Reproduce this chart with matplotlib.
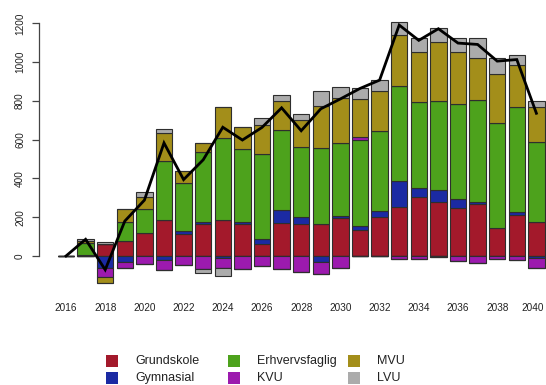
import numpy as np
import matplotlib
matplotlib.use("Agg")
import matplotlib.pyplot as plt
import matplotlib.transforms as mtransforms
from matplotlib.patches import Rectangle

plt.rcParams['font.family'] = ['Liberation Sans', 'DejaVu Sans']

years = list(range(2016, 2041))

grundskole = [0, 3, 60, 77, 120, 186, 113, 165, 186, 165, 60, 168, 165, 165, 194,
              134, 199, 254, 306, 280, 249, 266, 146, 211, 174]
gymnasial = [0, 0, -64, -32, 0, -20, 17, 8, -10, 12, 26, 69, 34, -29, 12,
             21, 33, 132, 43, 60, 43, 14, 0, 17, -9]
erhvervsfaglig = [0, 63, 0, 100, 121, 306, 248, 361, 425, 375, 438, 413, 364, 390, 375,
                  443, 414, 490, 447, 461, 490, 524, 538, 538, 416]
kvu = [0, 0, -43, -30, -43, -52, -46, -69, -52, -69, -50, -67, -84, -64, -60,
       17, 0, -15, -14, -5, -24, -34, -17, -21, -55]
mvu = [0, 13, -34, 65, 65, 140, 62, 48, 155, 115, 151, 150, 138, 218, 232,
       194, 206, 263, 258, 304, 268, 218, 254, 218, 177]
lvu = [0, 7, 10, 0, 25, 23, 0, -17, -40, 0, 38, 31, 29, 79, 57,
       55, 55, 67, 72, 72, 72, 103, 84, 50, 33]

labels = ['Grundskole', 'Gymnasial', 'Erhvervsfaglig', 'KVU', 'MVU', 'LVU']
colors = ['#A3192B', '#1B2AA3', '#4DA21C', '#9C1AAE', '#A38E1A', '#ABABAB']

series = [grundskole, gymnasial, erhvervsfaglig, kvu, mvu, lvu]

W, H = 546, 385
fig = plt.figure(figsize=(W / 100, H / 100), dpi=100)

# axes placed in pixel terms: left spine at x=39, bottom at y=295
ax_l, ax_r, ax_t, ax_b = 39, 546, 15, 295
ax = fig.add_axes([ax_l / W, 1 - ax_b / H, (ax_r - ax_l) / W, (ax_b - ax_t) / H])

x = np.arange(len(years))
width = 0.84
pos_base = np.zeros(len(years))
neg_base = np.zeros(len(years))
for vals, col in zip(series, colors):
    v = np.array(vals, dtype=float)
    pos = np.clip(v, 0, None)
    neg = np.clip(v, None, 0)
    ax.bar(x, pos, width, bottom=pos_base, color=col, edgecolor='#2e2e2e', linewidth=0.8)
    ax.bar(x, neg, width, bottom=neg_base, color=col, edgecolor='#2e2e2e', linewidth=0.8)
    pos_base += pos
    neg_base += neg

total = np.sum(np.array(series, dtype=float), axis=0)
ax.plot(x, total, color='black', linewidth=2.0, solid_joinstyle='miter', zorder=5)

# px -> data mapping: bar centre of 2016 at 66px, 19.6px per year; 0 at 256px, 5.157 units/px
ax.set_xlim((ax_l - 66) / 19.6, (ax_r - 66) / 19.6)
ax.set_ylim((256 - ax_b) * 5.157, (256 - ax_t) * 5.157)

for side in ['top', 'right', 'bottom']:
    ax.spines[side].set_visible(False)
ax.spines['left'].set_bounds(0, 1200)
ax.spines['left'].set_color('#444444')
ax.spines['left'].set_linewidth(0.9)

ax.set_yticks(range(0, 1201, 200))
ax.tick_params(axis='y', length=5, width=0.9, color='#444444', pad=5,
               labelsize=7.2, labelcolor='#222222')
for lab in ax.get_yticklabels():
    lab.set_rotation(90)
    lab.set_va('center')

ax.set_xticks(x[::2])
ax.set_xticklabels([str(y) for y in years[::2]])
ax.tick_params(axis='x', length=0, pad=6, labelsize=7.2, labelcolor='#222222')
# pull the last year label in a little so it stays on the canvas
last = ax.get_xticklabels()[-1]
last.set_transform(last.get_transform() +
                   mtransforms.ScaledTranslation(-2.5 / 72, 0, fig.dpi_scale_trans))

# legend in three columns, two rows
col_x = [106, 228, 348]
text_dx = 29
row_y = [361, 378]
for i, (lab, col) in enumerate(zip(labels, colors)):
    cx = col_x[i // 2]
    cy = row_y[i % 2]
    fig.patches.append(Rectangle(((cx) / W, 1 - (cy + 6) / H), 12 / W, 12 / H,
                                 transform=fig.transFigure, facecolor=col,
                                 edgecolor='none'))
    fig.text((cx + text_dx) / W, 1 - cy / H, lab, fontsize=9, va='center',
             ha='left', color='#222222')

fig.savefig('out.png', dpi=100)
